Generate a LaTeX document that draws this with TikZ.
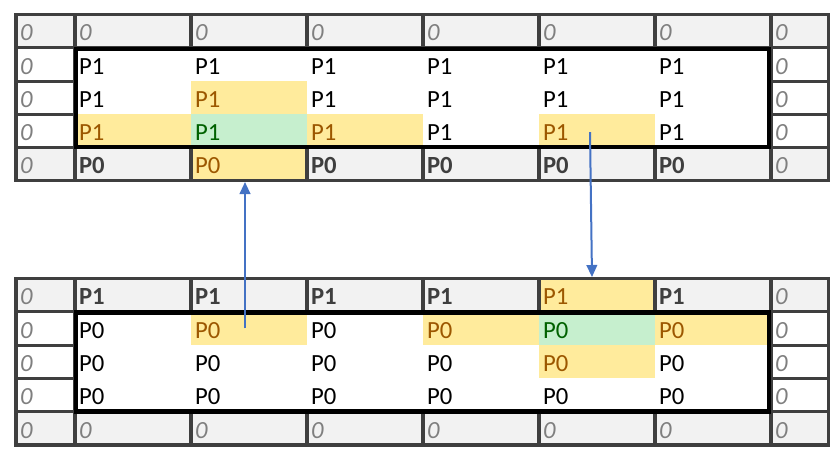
\documentclass[tikz,border=0pt]{standalone}
\usepackage{fontspec}
\setmainfont{Carlito}
\usetikzlibrary{arrows.meta}
\definecolor{grayfill}{HTML}{F2F2F2}
\definecolor{bord}{HTML}{3F3F3F}
\definecolor{zerotext}{HTML}{7F7F7F}
\definecolor{yel}{HTML}{FFEB9C}
\definecolor{yeltext}{HTML}{9C5700}
\definecolor{grn}{HTML}{C6EFCE}
\definecolor{grntext}{HTML}{006100}
\definecolor{arrowblue}{HTML}{4472C4}
\newcommand\cellfont{\fontsize{18.5}{20}\selectfont}
\newcommand\cellrow[4]{%
  \foreach \s/\t [count=\c from 0] in {#4} {%
    \pgfmathsetmacro\xl{{16,75,191,307,423,539,655,771}[\c]}%
    \pgfmathsetmacro\tw{{59,116,116,116,116,116,116,57.5}[\c]*0.75-6}%
    \node[cellbase,\s,text width=\tw pt] (#1-#2-\c) at (\xl,#3) {\t};
  }%
}
\tikzset{
  cellbase/.style={draw=none, inner xsep=3pt, inner ysep=0pt, outer sep=0pt,
    anchor=north west, align=left, font=\cellfont,
    text height=19.725pt, text depth=5.25pt},
  gz/.style={fill=grayfill, draw=bord, line width=2.4pt, text=zerotext, font=\cellfont\itshape},
  gb/.style={fill=grayfill, draw=bord, line width=2.4pt, text=bord, font=\cellfont\bfseries},
  gy/.style={fill=yel, draw=bord, line width=2.4pt, text=yeltext},
  wz/.style={fill=white, draw=bord, line width=2.4pt, text=zerotext, font=\cellfont\itshape},
  pl/.style={text=black},
  yl/.style={fill=yel, text=yeltext},
  gr/.style={fill=grn, text=grntext},
  frame/.style={draw=black, line width=3.2pt},
  flow/.style={draw=arrowblue, line width=1.5pt, -{Triangle[length=9pt,width=8pt]}}
}
\begin{document}
\begin{tikzpicture}[x=0.75pt,y=-0.75pt]
\useasboundingbox (0,0) rectangle (838,464);
% top table
\cellrow{t}{0}{14.5}{gz/0,gz/0,gz/0,gz/0,gz/0,gz/0,gz/0,gz/0}
\cellrow{t}{1}{47.8}{wz/0,pl/P1,pl/P1,pl/P1,pl/P1,pl/P1,pl/P1,wz/0}
\cellrow{t}{2}{81.1}{wz/0,pl/P1,yl/P1,pl/P1,pl/P1,pl/P1,pl/P1,wz/0}
\cellrow{t}{3}{114.4}{wz/0,yl/P1,gr/P1,yl/P1,pl/P1,yl/P1,pl/P1,wz/0}
\cellrow{t}{4}{147.2}{gz/0,gb/P0,gy/P0,gb/P0,gb/P0,gb/P0,gb/P0,gz/0}
\draw[frame] ([shift={(1,1)}]t-1-1.north west) rectangle ([shift={(-2,-0.5)}]t-3-6.south east);
% bottom table
\cellrow{b}{0}{278.5}{gz/0,gb/P1,gb/P1,gb/P1,gb/P1,gy/P1,gb/P1,gz/0}
\cellrow{b}{1}{311.8}{wz/0,pl/P0,yl/P0,pl/P0,yl/P0,gr/P0,yl/P0,wz/0}
\cellrow{b}{2}{345.1}{wz/0,pl/P0,pl/P0,pl/P0,pl/P0,yl/P0,pl/P0,wz/0}
\cellrow{b}{3}{378.4}{wz/0,pl/P0,pl/P0,pl/P0,pl/P0,pl/P0,pl/P0,wz/0}
\cellrow{b}{4}{411.7}{gz/0,gz/0,gz/0,gz/0,gz/0,gz/0,gz/0,gz/0}
\draw[frame] ([shift={(1,0.7)}]b-1-1.north west) rectangle ([shift={(-2,-0.2)}]b-3-6.south east);
% arrows
\draw[flow] ([shift={(-4,0)}]b-1-2.center) -- ([shift={(-4,1.5)}]t-4-2.south);
\draw[flow] ([shift={(-7,1)}]t-3-5.center) -- ([shift={(-5,-1.5)}]b-0-5.north);
\end{tikzpicture}
\end{document}
